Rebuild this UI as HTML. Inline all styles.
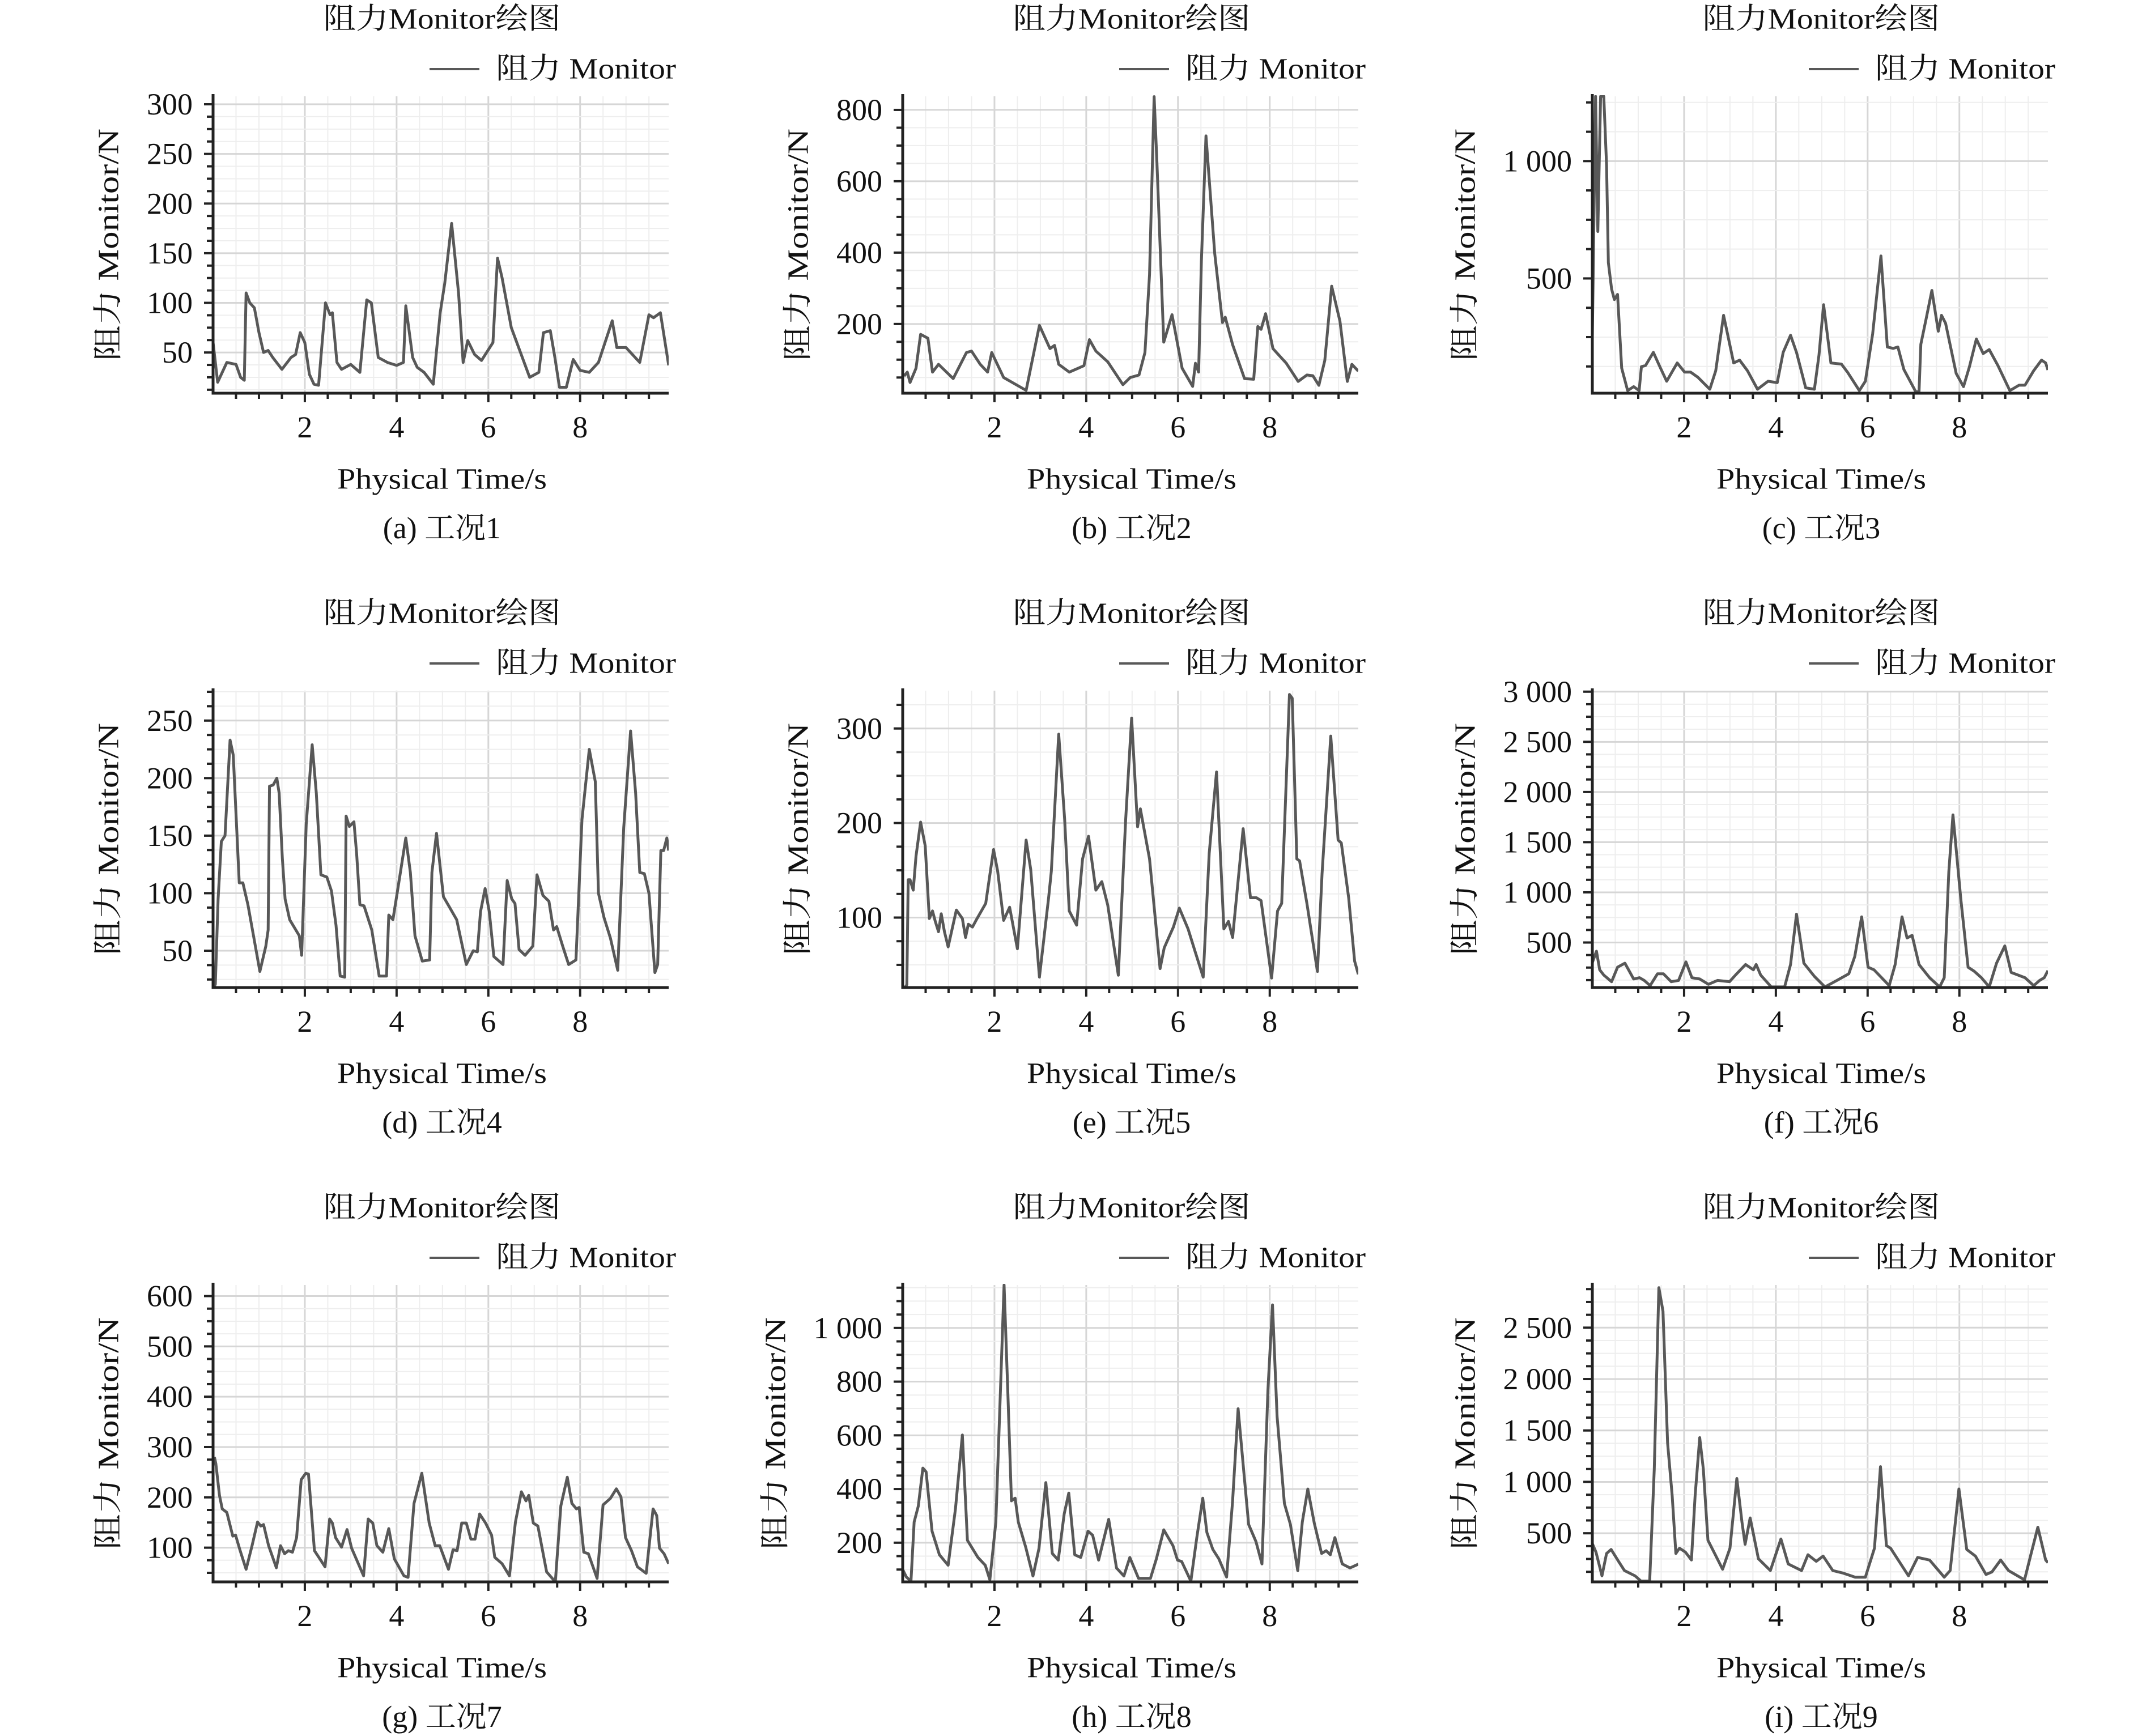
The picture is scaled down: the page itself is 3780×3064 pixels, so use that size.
<!DOCTYPE html>
<html><head><meta charset="utf-8">
<style>
html,body{margin:0;padding:0;background:#fff;}
svg{display:block;}
text{font-family:"Liberation Serif","Noto Serif CJK SC",serif;fill:#111;}
</style></head>
<body>
<svg id="fig" width="3780" height="3064" viewBox="0 0 3780 3064" xmlns="http://www.w3.org/2000/svg"></svg>
<script>
// ---------- data ----------
const timesA=[0,0.1,0.3,0.5,0.6,0.68,0.72,0.8,0.9,1.0,1.1,1.2,1.3,1.5,1.7,1.8,1.9,2.0,2.1,2.2,2.3,2.45,2.55,2.6,2.7,2.8,3.0,3.2,3.35,3.45,3.6,3.8,4.0,4.15,4.2,4.35,4.45,4.6,4.8,4.95,5.05,5.2,5.35,5.45,5.55,5.7,5.85,6.1,6.2,6.3,6.5,6.7,6.9,7.1,7.2,7.35,7.45,7.55,7.7,7.85,8.0,8.2,8.4,8.7,8.8,9.0,9.3,9.5,9.6,9.75,9.93];
const valuesA=[60,20,40,38,25,22,110,100,95,70,50,52,45,33,45,48,70,60,28,18,17,100,88,90,40,33,38,30,103,100,45,40,37,40,97,45,35,30,18,90,120,180,110,40,62,48,42,60,145,125,75,50,25,30,70,72,45,15,15,43,32,30,40,82,55,55,40,88,85,90,37];
const timesB=[0.03,0.10,0.16,0.29,0.39,0.55,0.65,0.78,1.10,1.39,1.50,1.69,1.85,1.94,2.20,2.69,2.98,3.21,3.31,3.40,3.63,3.95,4.07,4.21,4.47,4.80,4.96,5.15,5.28,5.38,5.48,5.54,5.69,5.87,6.09,6.32,6.38,6.45,6.51,6.61,6.80,6.97,7.03,7.19,7.45,7.65,7.74,7.81,7.91,8.07,8.36,8.62,8.81,8.94,9.07,9.20,9.35,9.53,9.69,9.79,9.93];
const valuesB=[54,65,36,76,171,160,65,87,47,120,124,87,65,120,50,14,196,131,140,87,65,83,156,124,94,30,50,57,120,339,837,654,149,226,76,25,90,65,376,727,398,204,219,142,47,45,193,185,229,131,90,39,57,55,28,98,306,208,39,87,68];
const timesC=[0,0.07,0.12,0.18,0.25,0.31,0.35,0.42,0.48,0.55,0.64,0.77,0.90,1.02,1.07,1.16,1.33,1.46,1.62,1.85,2.01,2.14,2.30,2.56,2.69,2.86,3.08,3.21,3.38,3.60,3.83,4.03,4.16,4.32,4.45,4.65,4.84,4.94,5.04,5.20,5.43,5.56,5.82,5.95,6.11,6.29,6.43,6.56,6.66,6.79,7.05,7.12,7.16,7.28,7.40,7.54,7.61,7.70,7.93,8.09,8.22,8.37,8.52,8.65,8.84,9.10,9.30,9.43,9.62,9.79,9.88,9.93];
const valuesC=[250,1276,700,1276,1276,983,567,455,410,432,118,22,39,22,124,129,185,129,62,140,101,101,79,28,107,343,140,152,107,28,62,56,185,258,185,34,28,174,388,140,135,101,22,62,264,596,208,202,208,112,17,17,219,332,449,275,343,309,95,39,124,242,180,197,129,22,45,45,107,152,140,110];
const timesD=[0.02,0.05,0.11,0.18,0.26,0.37,0.44,0.57,0.65,0.76,0.89,1.02,1.15,1.20,1.23,1.31,1.39,1.44,1.51,1.57,1.67,1.88,1.93,2.03,2.16,2.25,2.35,2.48,2.58,2.68,2.77,2.87,2.90,2.97,3.07,3.13,3.20,3.29,3.46,3.62,3.78,3.83,3.92,4.04,4.20,4.30,4.40,4.56,4.72,4.77,4.87,5.02,5.15,5.31,5.52,5.67,5.76,5.83,5.93,6.02,6.12,6.32,6.41,6.51,6.58,6.67,6.80,6.97,7.06,7.19,7.32,7.42,7.49,7.62,7.75,7.91,8.04,8.20,8.33,8.40,8.52,8.66,8.82,8.95,9.10,9.21,9.30,9.40,9.50,9.63,9.69,9.76,9.82,9.89,9.93];
const valuesD=[18,21,95,145,150,233,220,109,109,90,61,32,54,68,193,194,200,187,130,95,77,63,46,160,229,187,116,114,102,72,28,27,167,158,162,134,90,89,68,28,28,81,77,107,148,118,63,41,42,118,152,97,88,77,38,50,49,84,104,84,45,38,111,95,91,51,46,54,116,98,93,68,71,54,38,42,164,225,197,100,79,61,33,157,241,187,118,117,100,31,38,137,137,148,137];
const timesE=[0.05,0.09,0.12,0.16,0.23,0.29,0.39,0.49,0.58,0.65,0.71,0.78,0.84,0.91,0.99,1.17,1.30,1.37,1.43,1.52,1.62,1.81,1.98,2.07,2.20,2.33,2.50,2.69,2.79,2.98,3.18,3.24,3.40,3.53,3.63,3.79,3.92,4.05,4.21,4.34,4.47,4.70,4.86,4.99,5.12,5.18,5.38,5.61,5.70,5.90,6.03,6.22,6.38,6.55,6.68,6.84,7.00,7.10,7.19,7.42,7.58,7.71,7.81,8.04,8.17,8.26,8.43,8.49,8.59,8.65,8.81,9.04,9.14,9.33,9.49,9.56,9.72,9.85,9.93];
const valuesE=[26,29,140,140,129,165,201,176,99,107,96,85,104,85,69,108,99,79,93,90,99,115,172,149,97,111,67,182,151,37,121,149,294,204,107,92,162,186,129,138,113,39,204,311,196,215,162,46,68,90,110,88,63,37,168,254,88,96,79,194,121,121,118,36,107,115,336,332,162,160,115,43,146,292,182,179,121,54,40];
const timesF=[0,0.09,0.16,0.25,0.42,0.55,0.71,0.90,1.03,1.13,1.26,1.42,1.55,1.72,1.88,2.04,2.17,2.34,2.53,2.73,2.99,3.12,3.34,3.51,3.57,3.67,3.90,4.19,4.32,4.45,4.61,4.84,5.07,5.33,5.59,5.72,5.87,6.01,6.14,6.47,6.60,6.75,6.86,6.97,7.12,7.35,7.57,7.67,7.77,7.86,8.03,8.19,8.32,8.48,8.65,8.81,8.99,9.13,9.43,9.62,9.75,9.85,9.93];
const valuesF=[300,413,228,175,109,254,294,136,149,122,70,188,188,109,122,307,149,136,83,122,109,175,281,228,281,175,57,57,281,782,294,162,57,122,188,360,756,254,228,70,281,756,545,571,281,149,57,149,1205,1772,937,254,215,149,57,294,466,201,149,70,122,149,220];
const timesG=[0.03,0.06,0.14,0.20,0.30,0.43,0.49,0.59,0.72,0.85,0.97,1.04,1.10,1.21,1.38,1.47,1.56,1.64,1.73,1.82,1.92,2.02,2.08,2.21,2.44,2.54,2.60,2.67,2.80,2.92,3.02,3.28,3.38,3.48,3.57,3.70,3.83,3.95,4.16,4.25,4.38,4.55,4.71,4.84,4.94,5.13,5.23,5.32,5.42,5.52,5.62,5.71,5.81,5.94,6.07,6.14,6.30,6.46,6.59,6.72,6.82,6.88,6.98,7.08,7.27,7.46,7.58,7.72,7.82,7.92,7.98,8.08,8.18,8.37,8.50,8.66,8.79,8.89,8.99,9.12,9.25,9.44,9.59,9.67,9.73,9.83,9.93];
const valuesG=[280,267,204,177,170,123,125,94,57,104,151,143,146,104,60,104,88,94,91,120,235,248,246,94,62,157,149,120,101,136,99,44,157,149,104,91,138,78,44,41,188,248,149,104,104,57,96,94,149,149,117,117,167,149,125,81,68,44,151,211,193,204,149,143,52,32,183,240,188,177,180,91,88,39,185,198,217,201,120,94,62,49,177,164,99,88,68];
const timesH=[0,0.08,0.18,0.25,0.34,0.44,0.51,0.64,0.80,0.99,1.15,1.30,1.41,1.64,1.80,1.90,2.03,2.13,2.21,2.29,2.37,2.45,2.52,2.68,2.84,2.97,3.12,3.26,3.39,3.52,3.62,3.75,3.88,4.04,4.14,4.27,4.49,4.66,4.82,4.95,5.14,5.40,5.53,5.69,5.89,5.99,6.08,6.28,6.41,6.54,6.63,6.76,6.89,7.06,7.19,7.31,7.44,7.54,7.70,7.83,7.96,8.06,8.16,8.32,8.45,8.61,8.71,8.83,8.97,9.13,9.23,9.32,9.42,9.58,9.75,9.93];
const valuesH=[100,72,57,277,336,478,464,243,155,116,326,601,209,145,116,62,277,768,1160,768,356,366,277,184,76,179,424,160,135,307,385,155,145,243,228,135,287,106,76,145,67,67,140,248,189,135,130,57,219,366,238,175,140,72,356,699,454,268,204,121,768,1086,670,346,268,96,277,400,273,160,170,155,219,121,106,120];
const timesI=[0,0.08,0.21,0.31,0.41,0.57,0.70,0.93,1.06,1.25,1.35,1.45,1.54,1.64,1.74,1.82,1.90,2.03,2.16,2.24,2.34,2.42,2.52,2.68,2.84,3.00,3.15,3.26,3.33,3.44,3.62,3.88,4.11,4.27,4.56,4.70,4.88,5.03,5.24,5.47,5.73,5.95,6.15,6.28,6.41,6.50,6.89,7.09,7.35,7.67,7.80,7.99,8.16,8.35,8.58,8.71,8.90,9.07,9.42,9.55,9.71,9.88,9.93];
const valuesI=[400,316,86,303,342,227,137,86,35,35,1123,2889,2659,1379,867,303,355,316,240,867,1430,1123,432,291,150,355,1033,611,393,649,252,137,444,201,137,291,227,278,137,112,73,73,355,1148,380,355,86,265,240,73,137,931,342,278,99,124,240,137,47,278,559,240,214];

const yTicksA=[50,100,150,200,250,300];
const yTicksB=[200,400,600,800];
const yTicksC=[500,1000];
const yTicksD=[50,100,150,200,250];
const yTicksE=[100,200,300];
const yTicksF=[500,1000,1500,2000,2500,3000];
const yTicksG=[100,200,300,400,500,600];
const yTicksH=[200,400,600,800,1000];
const yTicksI=[500,1000,1500,2000,2500];
const yRanges=[[9,308],[6,838],[11,1276],[18,276],[26,340],[51,3010],[32,622],[54,1160],[27,2915]];
const xTickLabels=[2,4,6,8];
const captions=["(a) 工况1","(b) 工况2","(c) 工况3","(d) 工况4","(e) 工况5","(f) 工况6","(g) 工况7","(h) 工况8","(i) 工况9"];

const seriesT=[timesA,timesB,timesC,timesD,timesE,timesF,timesG,timesH,timesI];
const seriesV=[valuesA,valuesB,valuesC,valuesD,valuesE,valuesF,valuesG,valuesH,valuesI];
const ticksAll=[yTicksA,yTicksB,yTicksC,yTicksD,yTicksE,yTicksF,yTicksG,yTicksH,yTicksI];

// ---------- layout ----------
const NS="http://www.w3.org/2000/svg";
const svg=document.getElementById('fig');
const COLP=1217, ROWP=1049;
const L=376,R=1180,T=170,B=694, XMAX=9.93;
function mk(tag,attrs,parent){const e=document.createElementNS(NS,tag);for(const k in attrs)e.setAttribute(k,attrs[k]);(parent||svg).appendChild(e);return e;}
function fmt(v){if(v>=1000){return Math.floor(v/1000)+" "+String(v%1000).padStart(3,"0");}return String(v);}
const defs=mk('defs',{});

for(let p=0;p<9;p++){
  const col=p%3,row=Math.floor(p/3);
  const ox=col*COLP, oy=row*ROWP;
  const g=mk('g',{transform:`translate(${ox},${oy})`});
  
  
  const [ymin,ymax]=yRanges[p];
  const ticks=ticksAll[p];
  const step=ticks.length>1?ticks[1]-ticks[0]:500;
  const xs=t=>L+(t/XMAX)*(R-L);
  const ys=v=>B-(v-ymin)/(ymax-ymin)*(B-T);
  const wide=Math.max(...ticks)>=1000;

  const grid=mk('g',{},g);
  
  
  for(let t=0.5;t<XMAX;t+=0.5){
    const major=Math.abs(t/2-Math.round(t/2))<1e-6;
    mk('line',{x1:xs(t),x2:xs(t),y1:T,y2:B,stroke:major?'#d6d6d6':'#eeeeee','stroke-width':major?3:2},grid);
  }
  const mstep=step/4;
  for(let v=Math.ceil(ymin/mstep)*mstep;v<=ymax;v+=mstep){
    const major=Math.abs(v/step-Math.round(v/step))<1e-6;
    mk('line',{x1:L,x2:R,y1:ys(v),y2:ys(v),stroke:major?'#d6d6d6':'#eeeeee','stroke-width':major?3:2},grid);
    mk('line',{x1:L-(major?16:11),x2:L,y1:ys(v),y2:ys(v),stroke:'#222','stroke-width':4},grid);
  }
  for(let t=0.5;t<XMAX;t+=0.5){
    const major=Math.abs(t/2-Math.round(t/2))<1e-6;
    mk('line',{x1:xs(t),x2:xs(t),y1:B,y2:B+(major?16:10),stroke:'#222','stroke-width':4},grid);
  }

  const cid='clip'+p;
  const cp=mk('clipPath',{id:cid},defs);
  mk('rect',{x:L,y:T-2,width:R-L,height:B-T+2},cp);
  const tt=seriesT[p], vv=seriesV[p];
  let d='';
  for(let i=0;i<tt.length;i++){d+=(i?'L':'M')+xs(tt[i]).toFixed(1)+','+ys(vv[i]).toFixed(1);}
  const line=mk('path',{d:d,fill:'none',stroke:'#585858','stroke-width':5,'stroke-linejoin':'round','clip-path':`url(#${cid})`},g);
  
  

  const ax=mk('path',{d:`M${L},${T-4}L${L},${B}L${R},${B}`,fill:'none',stroke:'#222','stroke-width':5},g);
  
  

  for(const v of ticks){
    const tx=mk('text',{x:340,y:ys(v),'text-anchor':'end','dominant-baseline':'central','font-size':54},g);
    tx.textContent=fmt(v);
    
    
  }
  for(const t of xTickLabels){
    const tx=mk('text',{x:xs(t),y:754,'text-anchor':'middle','dominant-baseline':'central','font-size':54},g);
    tx.textContent=String(t);
    
    
  }

  const title=mk('text',{x:780,y:34,'text-anchor':'middle','dominant-baseline':'central','font-size':52,textLength:419,lengthAdjust:'spacingAndGlyphs'},g);
  title.textContent='阻力Monitor绘图';
  
  

  const lg=mk('g',{},g);
  
  
  mk('line',{x1:758,x2:846,y1:122,y2:122,stroke:'#585858','stroke-width':4},lg);
  const lt=mk('text',{x:875,y:122,'dominant-baseline':'central','font-size':52,textLength:318,lengthAdjust:'spacingAndGlyphs'},lg);
  lt.textContent='阻力 Monitor';

  const ytx=wide?152:192;
  const yt=mk('text',{x:0,y:0,transform:`translate(${ytx},432) rotate(-90)`,'text-anchor':'middle','dominant-baseline':'central','font-size':52,textLength:410,lengthAdjust:'spacingAndGlyphs'},g);
  yt.textContent='阻力 Monitor/N';
  
  

  const xt=mk('text',{x:780,y:846,'text-anchor':'middle','dominant-baseline':'central','font-size':52,textLength:370,lengthAdjust:'spacingAndGlyphs'},g);
  xt.textContent='Physical Time/s';
  
  

  const cap=mk('text',{x:780,y:932,'text-anchor':'middle','dominant-baseline':'central','font-size':54},g);
  cap.textContent=captions[p];
  
  
}
</script>
</body></html>
